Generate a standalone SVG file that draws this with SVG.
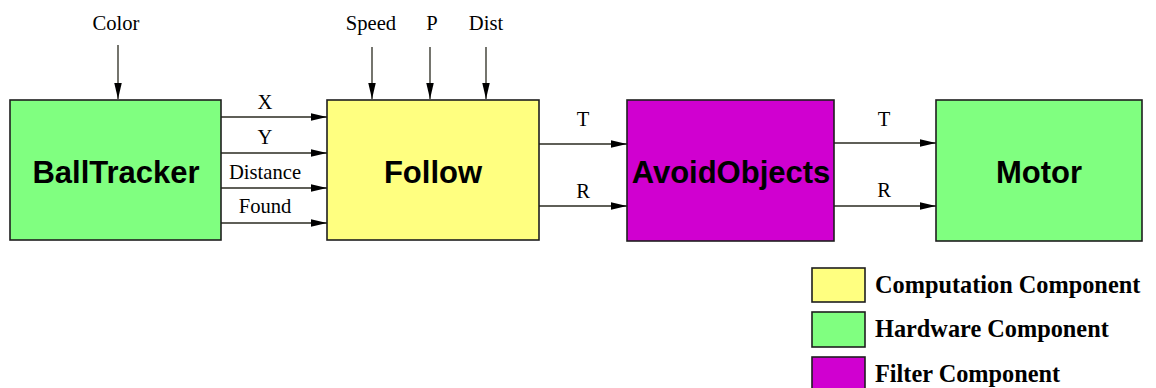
<svg xmlns="http://www.w3.org/2000/svg" width="1156" height="388" viewBox="0 0 1156 388">
  <style>
    .box { stroke: #1e1e1e; stroke-width: 1.6; }
    .hw { fill: #80ff80; }
    .comp { fill: #ffff80; }
    .filt { fill: #d000d0; }
    .name { font-family: "Liberation Sans", Arial, sans-serif; font-weight: bold; font-size: 31px; text-anchor: middle; fill: #000; }
    .lbl { font-family: "Liberation Serif", "Times New Roman", serif; font-size: 20.6px; text-anchor: middle; fill: #000; }
    .key { font-family: "Liberation Serif", "Times New Roman", serif; font-weight: bold; font-size: 24.3px; fill: #000; }
    .wire { stroke: #2a2a20; stroke-width: 1.3; fill: none; marker-end: url(#head); }
  </style>
  <defs>
    <marker id="head" markerUnits="userSpaceOnUse" markerWidth="17" markerHeight="8" refX="16" refY="3.75" orient="auto">
      <path d="M0,0 L16,3.75 L0,7.5 Z" fill="#000"/>
    </marker>
  </defs>

  <rect width="1156" height="388" fill="#fff"/>

  <!-- connectors -->
  <g id="connectors">
    <line class="wire" x1="118" y1="45" x2="118" y2="99"/>
    <line class="wire" x1="372" y1="47" x2="372" y2="99"/>
    <line class="wire" x1="430" y1="47" x2="430" y2="99"/>
    <line class="wire" x1="486" y1="47" x2="486" y2="99"/>
    <line class="wire" x1="221" y1="117" x2="327" y2="117"/>
    <line class="wire" x1="221" y1="153" x2="327" y2="153"/>
    <line class="wire" x1="221" y1="188" x2="327" y2="188"/>
    <line class="wire" x1="221" y1="223" x2="327" y2="223"/>
    <line class="wire" x1="539" y1="144" x2="627" y2="144"/>
    <line class="wire" x1="539" y1="206" x2="627" y2="206"/>
    <line class="wire" x1="834" y1="143" x2="936" y2="143"/>
    <line class="wire" x1="834" y1="206" x2="936" y2="206"/>
    <text class="lbl" x="116" y="30">Color</text>
    <text class="lbl" x="371" y="30">Speed</text>
    <text class="lbl" x="432" y="30">P</text>
    <text class="lbl" x="486" y="30">Dist</text>
    <text class="lbl" x="265" y="109">X</text>
    <text class="lbl" x="265" y="144">Y</text>
    <text class="lbl" x="265" y="179">Distance</text>
    <text class="lbl" x="265" y="213">Found</text>
    <text class="lbl" x="583" y="126">T</text>
    <text class="lbl" x="583" y="198">R</text>
    <text class="lbl" x="884" y="126">T</text>
    <text class="lbl" x="884" y="197">R</text>
  </g>

  <g id="balltracker">
    <rect class="box hw" x="10" y="100" width="211" height="140"/>
    <text class="name" x="116" y="183">BallTracker</text>
  </g>
  <g id="follow">
    <rect class="box comp" x="327" y="100" width="212" height="140"/>
    <text class="name" x="433" y="183">Follow</text>
  </g>
  <g id="avoidobjects">
    <rect class="box filt" x="627" y="100" width="207" height="141"/>
    <text class="name" x="731" y="183">AvoidObjects</text>
  </g>
  <g id="motor">
    <rect class="box hw" x="936" y="100" width="206" height="141"/>
    <text class="name" x="1039" y="183">Motor</text>
  </g>

  <!-- legend -->
  <g id="legend">
    <rect class="box comp" x="812" y="268" width="53" height="34"/>
    <text class="key" x="875" y="293">Computation Component</text>
    <rect class="box hw" x="812" y="312" width="53" height="35"/>
    <text class="key" x="875" y="337">Hardware Component</text>
    <rect class="box filt" x="812" y="357" width="53" height="35"/>
    <text class="key" x="875" y="382">Filter Component</text>
  </g>
</svg>
